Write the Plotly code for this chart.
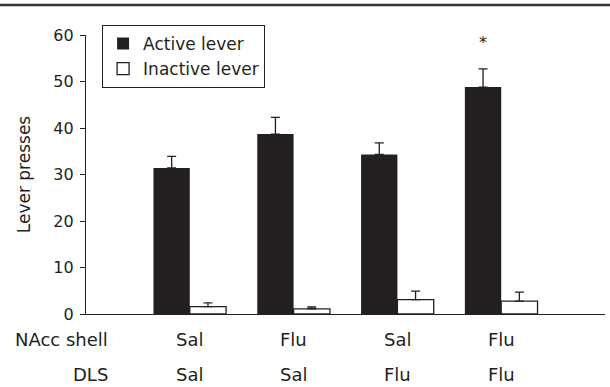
import plotly.graph_objects as go

# ---- data ----
groups = [0, 1, 2, 3]
active = [31.4, 38.7, 34.3, 48.8]
active_err = [2.5, 3.6, 2.5, 3.9]
inactive = [1.6, 1.1, 3.1, 2.75]
inactive_err = [0.8, 0.4, 1.8, 1.95]
nacc_labels = ["Sal", "Flu", "Sal", "Flu"]
dls_labels = ["Sal", "Sal", "Flu", "Flu"]
row_labels = ["NAcc shell", "DLS"]
y_ticks = [0, 10, 20, 30, 40, 50, 60]
sig_group = 3
sig_y = 58.4

INK = "#231f20"
FONT = "DejaVu Sans"
BW = 0.35

fig = go.Figure()
fig.add_trace(go.Bar(
    x=groups, y=active, name="Active lever",
    offset=-BW, width=BW,
    marker=dict(color=INK, line=dict(width=0)),
    error_y=dict(type="data", array=active_err, arrayminus=[0] * 4,
                 symmetric=False, color=INK, thickness=1.3, width=4.5),
))
fig.add_trace(go.Bar(
    x=groups, y=inactive, name="Inactive lever",
    offset=0, width=BW,
    marker=dict(color="white", line=dict(color=INK, width=1.3)),
    error_y=dict(type="data", array=inactive_err, arrayminus=[0] * 4,
                 symmetric=False, color=INK, thickness=1.3, width=4.5),
))

ROW1_Y = -0.093
ROW2_Y = -0.262
annotations = []
for i, (a, b) in enumerate(zip(nacc_labels, dls_labels)):
    annotations.append(dict(x=groups[i], y=ROW1_Y, xref="x", yref="paper",
                            text=a, showarrow=False, xanchor="center", yanchor="middle",
                            font=dict(family=FONT, size=18, color=INK)))
    annotations.append(dict(x=groups[i], y=ROW2_Y, xref="x", yref="paper",
                            text=b, showarrow=False, xanchor="center", yanchor="bottom",
                            font=dict(family=FONT, size=18, color=INK)))
annotations.append(dict(x=0.046, y=ROW1_Y, xref="paper", yref="paper", text=row_labels[0],
                        showarrow=False, xanchor="right", yanchor="middle",
                        font=dict(family=FONT, size=18, color=INK)))
annotations.append(dict(x=0.046, y=ROW2_Y, xref="paper", yref="paper", text=row_labels[1],
                        showarrow=False, xanchor="right", yanchor="bottom",
                        font=dict(family=FONT, size=18, color=INK)))
annotations.append(dict(x=sig_group - BW / 2, y=sig_y, xref="x", yref="y", text="*",
                        showarrow=False, xanchor="center", yanchor="middle",
                        font=dict(family=FONT, size=16, color=INK)))

fig.update_layout(
    width=610, height=387,
    margin=dict(l=86, r=5, t=35, b=73),
    paper_bgcolor="white", plot_bgcolor="white",
    barmode="overlay",
    font=dict(family=FONT, size=16, color=INK),
    showlegend=True,
    legend=dict(x=0.031, y=1.036, xanchor="left", yanchor="top",
                bordercolor=INK, borderwidth=1, bgcolor="white",
                font=dict(family=FONT, size=17, color=INK),
                traceorder="normal"),
    annotations=annotations,
    shapes=[dict(type="line", xref="paper", yref="paper", x0=-0.17, x1=1.02,
                 y0=1.1075, y1=1.1075, line=dict(color="#333333", width=2.5))],
)
fig.update_xaxes(range=[-1, 4], showline=True, linecolor=INK, linewidth=1.2,
                 showticklabels=False, ticks="", showgrid=False, zeroline=False)
fig.update_yaxes(range=[0, 60], tickvals=y_ticks, showline=True, linecolor=INK,
                 linewidth=1.2, ticks="outside", ticklen=5, tickwidth=1.2, tickcolor=INK,
                 ticklabelstandoff=3,
                 showgrid=False, zeroline=False,
                 tickfont=dict(family=FONT, size=16, color=INK),
                 title=dict(text="Lever presses", standoff=18,
                            font=dict(family=FONT, size=17, color=INK)))

fig.write_html("out.html", config={"displayModeBar": False},
               post_script="document.body.style.margin='0';document.body.style.padding='0';document.body.style.overflow='hidden';")
